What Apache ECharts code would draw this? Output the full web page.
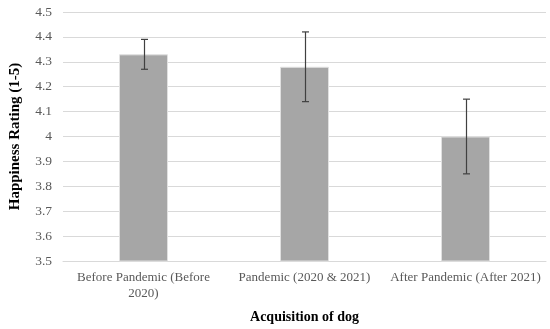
<!DOCTYPE html>
<html><head><meta charset="utf-8">
<script src="https://cdn.jsdelivr.net/npm/echarts@6/dist/echarts.min.js"></script>
<style>html,body{margin:0;padding:0;background:#fff}#c{width:550px;height:329px}</style>
</head><body><div id="c"></div>
<script>
var categories = ["Before Pandemic (Before\n2020)", "Pandemic (2020 & 2021)", "After Pandemic (After 2021)"];
var means = [4.33, 4.28, 4.00];
var errLow = [4.27, 4.14, 3.85];
var errHigh = [4.39, 4.42, 4.15];
var yTicks = [3.5, 3.6, 3.7, 3.8, 3.9, 4, 4.1, 4.2, 4.3, 4.4, 4.5];

var font = "'Liberation Serif', 'Times New Roman', serif";
var chart = echarts.init(document.getElementById('c'));
chart.setOption({
  animation: false,
  grid: {left: 60, right: 4, top: 12, bottom: 65},
  xAxis: {
    type: 'category', data: categories,
    axisLine: {lineStyle: {color: '#d9d9d9', width: 1}},
    axisTick: {show: false},
    axisLabel: {color: '#595959', fontFamily: font, fontSize: 13, margin: 9, lineHeight: 16, interval: 0},
    name: 'Acquisition of dog', nameLocation: 'middle', nameGap: 49,
    nameTextStyle: {color: '#000', fontFamily: font, fontSize: 14, fontWeight: 'bold'}
  },
  yAxis: {
    type: 'value', min: yTicks[0], max: yTicks[yTicks.length-1], interval: 0.1,
    axisLine: {show: false}, axisTick: {show: false},
    splitLine: {lineStyle: {color: '#d9d9d9', width: 1}},
    axisLabel: {color: '#595959', fontFamily: font, fontSize: 13.5, margin: 11,
      formatter: function(v){ return String(Math.round(v*10)/10); }},
    name: 'Happiness Rating (1-5)', nameLocation: 'middle', nameGap: 40, nameRotate: 90,
    nameTextStyle: {color: '#000', fontFamily: font, fontSize: 15, fontWeight: 'bold'}
  },
  series: [{
    type: 'bar', data: means, barWidth: 49,
    itemStyle: {color: '#a6a6a6', borderColor: '#e0e0e0', borderWidth: 1}
  }, {
    type: 'custom',
    data: categories.map(function(c, i){ return [i, errLow[i], errHigh[i]]; }),
    renderItem: function(params, api){
      var lo = api.coord([api.value(0), api.value(1)]);
      var hi = api.coord([api.value(0), api.value(2)]);
      var x = Math.round(lo[0]) + 0.5, hw = 3.5;
      var st = {stroke: '#404040', lineWidth: 1.2};
      return {type: 'group', children: [
        {type: 'line', shape: {x1: x, y1: hi[1], x2: x, y2: lo[1]}, style: st},
        {type: 'line', shape: {x1: x-hw, y1: hi[1], x2: x+hw, y2: hi[1]}, style: st},
        {type: 'line', shape: {x1: x-hw, y1: lo[1], x2: x+hw, y2: lo[1]}, style: st}
      ]};
    },
    z: 10
  }]
});
</script></body></html>
